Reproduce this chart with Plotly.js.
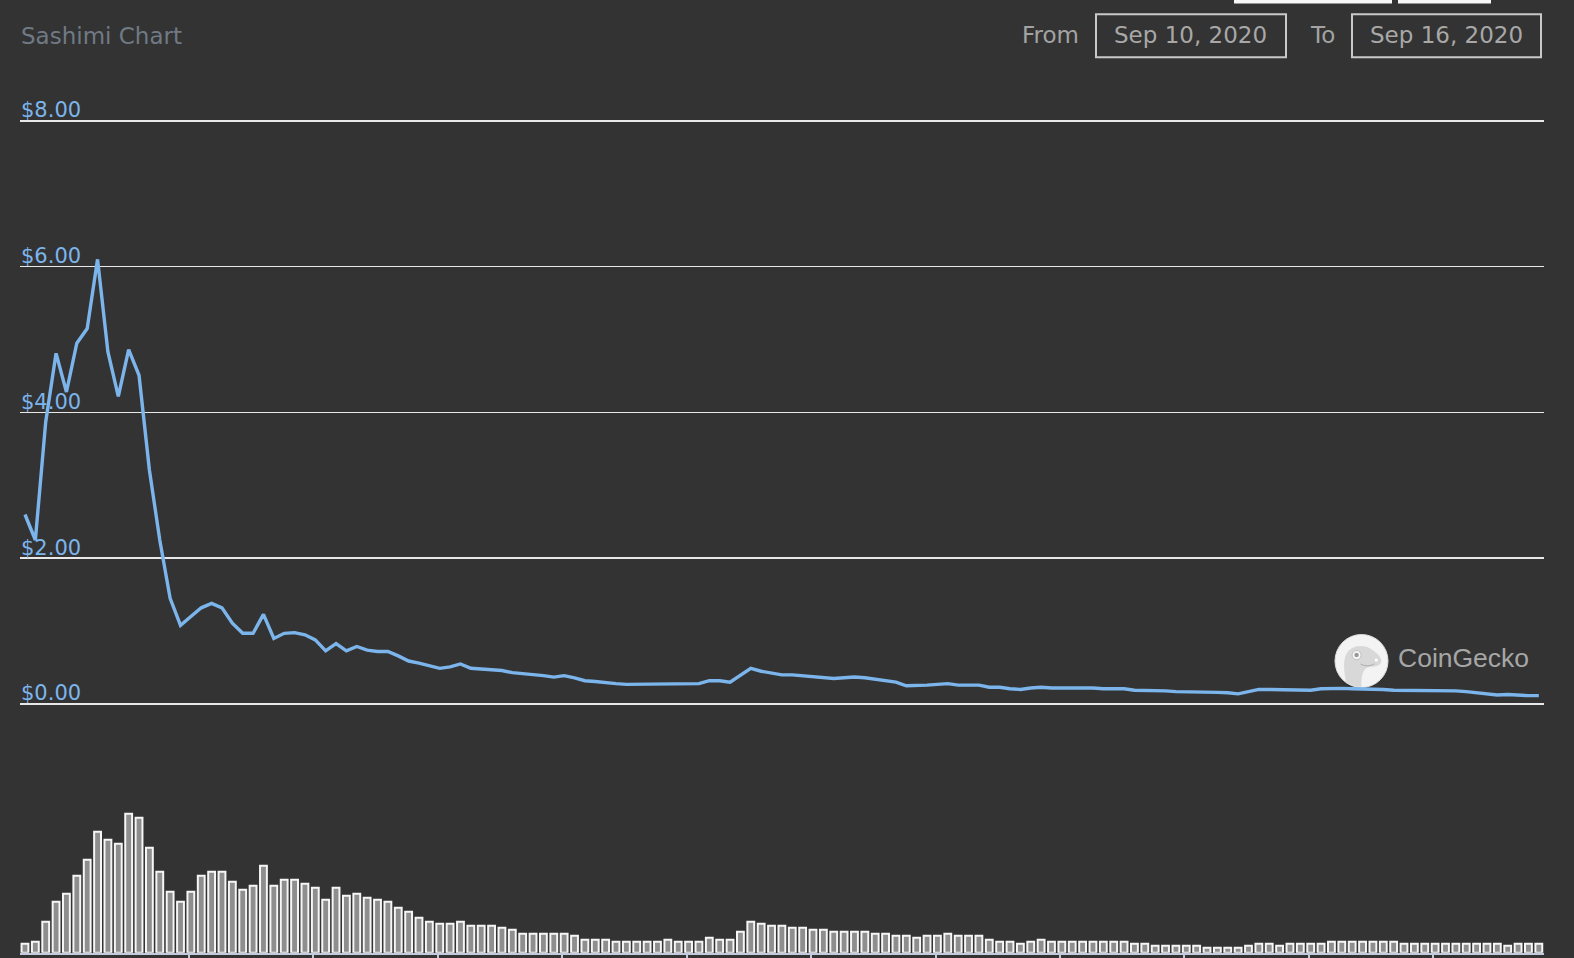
<!DOCTYPE html>
<html>
<head>
<meta charset="utf-8">
<script src="https://cdn.plot.ly/plotly-3.0.1.min.js"></script>
<style>
  html, body { margin: 0; padding: 0; background: #333333; }
  #chart { width: 1574px; height: 958px; }
</style>
</head>
<body>
<div id="chart"></div>
<script>
// ---------------- data ----------------
const chartTitle = "Sashimi Chart";
const fromLabel = "From";
const toLabel = "To";
const fromDate = "Sep 10, 2020";
const toDate = "Sep 16, 2020";
const brandName = "CoinGecko";

// hourly series start
const startTime = "2020-09-10T08:11:00";

// price (USD), hourly
const price = [
  2.60, 2.25, 3.87, 4.81, 4.28, 4.95, 5.15, 6.10, 4.83, 4.22,
  4.86, 4.51, 3.21, 2.25, 1.45, 1.08, 1.20, 1.32, 1.38, 1.32,
  1.11, 0.97, 0.97, 1.23, 0.90, 0.97, 0.98, 0.95, 0.88, 0.73,
  0.83, 0.73, 0.79, 0.74, 0.72, 0.72, 0.66, 0.59, 0.56, 0.53,
  0.49, 0.51, 0.55, 0.49, 0.48, 0.48, 0.46, 0.43, 0.42, 0.41,
  0.39, 0.37, 0.39, 0.36, 0.32, 0.31, 0.29, 0.28, 0.27, 0.27,
  0.27, 0.27, 0.28, 0.28, 0.28, 0.28, 0.32, 0.32, 0.30, 0.39,
  0.49, 0.45, 0.42, 0.40, 0.40, 0.39, 0.37, 0.36, 0.35, 0.36,
  0.37, 0.36, 0.34, 0.32, 0.30, 0.25, 0.25, 0.26, 0.27, 0.28,
  0.26, 0.26, 0.26, 0.23, 0.23, 0.21, 0.20, 0.22, 0.23, 0.22,
  0.22, 0.23, 0.22, 0.22, 0.21, 0.21, 0.21, 0.19, 0.19, 0.18,
  0.18, 0.17, 0.17, 0.17, 0.16, 0.16, 0.155, 0.14, 0.17, 0.20,
  0.20, 0.20, 0.20, 0.20, 0.19, 0.21, 0.215, 0.215, 0.21, 0.21,
  0.21, 0.20, 0.19, 0.19, 0.18, 0.18, 0.18, 0.18, 0.18, 0.17,
  0.155, 0.13, 0.125, 0.13, 0.12, 0.115, 0.115
];

// volume (relative units), hourly
const volume = [
  27, 33, 93, 153, 177, 231, 279, 363, 339, 327,
  417, 405, 315, 243, 183, 153, 183, 231, 243, 243,
  213, 189, 201, 261, 201, 219, 219, 207, 195, 159,
  195, 171, 177, 165, 159, 153, 135, 123, 105, 93,
  87, 87, 93, 81, 81, 81, 75, 69, 57, 57,
  57, 57, 57, 51, 39, 39, 39, 33, 33, 33,
  33, 33, 39, 33, 33, 33, 45, 39, 39, 63,
  93, 87, 81, 81, 75, 75, 69, 69, 63, 63,
  63, 63, 57, 57, 51, 51, 45, 51, 51, 57,
  51, 51, 51, 39, 33, 33, 27, 33, 39, 33,
  33, 33, 33, 33, 33, 33, 33, 27, 27, 21,
  21, 21, 21, 21, 15, 15, 15, 15, 21, 27,
  27, 21, 27, 27, 27, 27, 33, 33, 33, 33,
  33, 33, 33, 27, 27, 27, 27, 27, 27, 27,
  27, 27, 27, 21, 27, 27, 27
];

const priceTicks = [0, 2, 4, 6, 8];
const priceTickLabels = ["$0.00", "$2.00", "$4.00", "$6.00", "$8.00"];

// ---------------- build ----------------
const HOUR = 3600000;
const t0 = new Date(startTime + "Z").getTime();
function iso(ms) { return new Date(ms).toISOString().replace("Z", ""); }
const times = price.map((_, i) => iso(t0 + i * HOUR));

const W = 1574, H = 958;
const px = x => x / W;
const py = y => 1 - y / H;

const lineColor = "#7cb5ec";

const traces = [
  {
    type: "bar", x: times, y: volume, xaxis: "x", yaxis: "y2",
    marker: { color: "#8e8e8e", line: { color: "#f6f6f6", width: 2 } },
    hoverinfo: "skip"
  },
  {
    type: "scatter", mode: "lines", x: times, y: price, xaxis: "x", yaxis: "y",
    line: { color: lineColor, width: 3.4, shape: "linear" },
    hoverinfo: "skip"
  }
];

const geckoSvg =
  '<svg xmlns="http://www.w3.org/2000/svg" viewBox="-28 -28 56 56" width="56" height="56">' +
  '<defs><clipPath id="c"><circle r="26.5"/></clipPath></defs>' +
  '<circle r="27" fill="#f3f3f3" stroke="#dedede" stroke-width="1"/>' +
  '<g clip-path="url(#c)">' +
  '<path d="M-14 28 C-18 14 -19 2 -16 -6 C-12 -16 2 -18 10 -12 C16 -8 21 -4 20 1 C19 5 13 6 8 6 C3 7 -1 12 0 28 Z" fill="#d8d8d8"/>' +
  '</g>' +
  '<circle cx="-5" cy="-6" r="4.6" fill="#fafafa" stroke="#bcbcbc" stroke-width="1"/>' +
  '<circle cx="-5" cy="-6" r="2.3" fill="#9a9a9a"/>' +
  '<circle cx="15" cy="-1" r="1.6" fill="#ffffff"/>' +
  '<path d="M-1 3 C4 6 9 5 13 3" stroke="#ababab" fill="none" stroke-width="1"/>' +
  '</svg>';

const xStart = t0 - 0.48 * HOUR;
const xEnd = t0 + 146.5 * HOUR;

const layout = {
  width: W, height: H,
  margin: { l: 0, r: 0, t: 0, b: 0, pad: 0 },
  paper_bgcolor: "#333333",
  plot_bgcolor: "#333333",
  showlegend: false,
  bargap: 0.34,
  font: { family: "DejaVu Sans", color: "#a3a3a3" },
  xaxis: {
    type: "date",
    domain: [px(20), px(1544)],
    range: [iso(xStart), iso(xEnd)],
    anchor: "y2",
    showgrid: false, zeroline: false,
    showline: true, linecolor: "#c4cadd", linewidth: 2,
    ticks: "outside", ticklen: 7, tickwidth: 2, tickcolor: "#c4cadd",
    tick0: "2020-09-10 12:00", dtick: 12 * HOUR,
    showticklabels: false,
    automargin: false, fixedrange: true
  },
  yaxis: {
    domain: [py(705.5), py(95.1)],
    range: [-0.02, 8.3525],
    anchor: "x",
    tickmode: "array", tickvals: priceTicks, ticktext: priceTickLabels,
    ticklabelposition: "inside",
    ticklabelshift: -11,
    ticklabelstandoff: -2,
    ticks: "",
    tickfont: { family: "DejaVu Sans", size: 21, color: lineColor },
    showgrid: true, gridcolor: "#e8e8e8", gridwidth: 1.7,
    zeroline: true, zerolinecolor: "#e8e8e8", zerolinewidth: 1.7,
    showline: false,
    automargin: false, fixedrange: true
  },
  yaxis2: {
    domain: [py(952.7), py(766.4)],
    range: [0, 559],
    anchor: "x",
    showgrid: false, zeroline: false, showline: false,
    showticklabels: false, ticks: "",
    automargin: false, fixedrange: true
  },
  annotations: [
    { text: chartTitle, xref: "paper", yref: "paper", x: px(18.5), y: py(36), xanchor: "left", yanchor: "middle",
      showarrow: false, font: { family: "DejaVu Sans", size: 23, color: "#707a84" } },
    { text: fromLabel, xref: "paper", yref: "paper", x: px(1081), y: py(35), xanchor: "right", yanchor: "middle",
      showarrow: false, font: { family: "DejaVu Sans", size: 23, color: "#a3a3a3" } },
    { text: fromDate, xref: "paper", yref: "paper", x: px(1190), y: py(35), xanchor: "center", yanchor: "middle",
      showarrow: false, font: { family: "DejaVu Sans", size: 23, color: "#a8a8a8" } },
    { text: toLabel, xref: "paper", yref: "paper", x: px(1322.5), y: py(35), xanchor: "center", yanchor: "middle",
      showarrow: false, font: { family: "DejaVu Sans", size: 23, color: "#a3a3a3" } },
    { text: toDate, xref: "paper", yref: "paper", x: px(1446.5), y: py(35), xanchor: "center", yanchor: "middle",
      showarrow: false, font: { family: "DejaVu Sans", size: 23, color: "#a8a8a8" } },
    { text: brandName, xref: "paper", yref: "paper", x: px(1396), y: py(658), xanchor: "left", yanchor: "middle",
      showarrow: false, font: { family: "Liberation Sans", size: 26.5, color: "#a6a6a6" } }
  ],
  shapes: [
    { type: "rect", xref: "paper", yref: "paper", x0: px(1096), x1: px(1286), y0: py(57.3), y1: py(14.3),
      line: { color: "#c9c9c9", width: 2 }, fillcolor: "rgba(0,0,0,0)" },
    { type: "rect", xref: "paper", yref: "paper", x0: px(1352), x1: px(1541), y0: py(57.3), y1: py(14.3),
      line: { color: "#c9c9c9", width: 2 }, fillcolor: "rgba(0,0,0,0)" },
    { type: "rect", xref: "paper", yref: "paper", x0: px(1234), x1: px(1392), y0: py(3.4), y1: py(-4),
      line: { width: 0 }, fillcolor: "#f7f7f7" },
    { type: "rect", xref: "paper", yref: "paper", x0: px(1398), x1: px(1491), y0: py(3.4), y1: py(-4),
      line: { width: 0 }, fillcolor: "#f7f7f7" }
  ],
  images: [
    { source: "data:image/svg+xml;charset=utf-8," + encodeURIComponent(geckoSvg),
      xref: "paper", yref: "paper", x: px(1334), y: py(633.5), sizex: px(55) , sizey: 55 / H,
      xanchor: "left", yanchor: "top", sizing: "stretch", layer: "below" }
  ]
};

Plotly.newPlot("chart", traces, layout, { staticPlot: true, displayModeBar: false });
</script>
</body>
</html>
